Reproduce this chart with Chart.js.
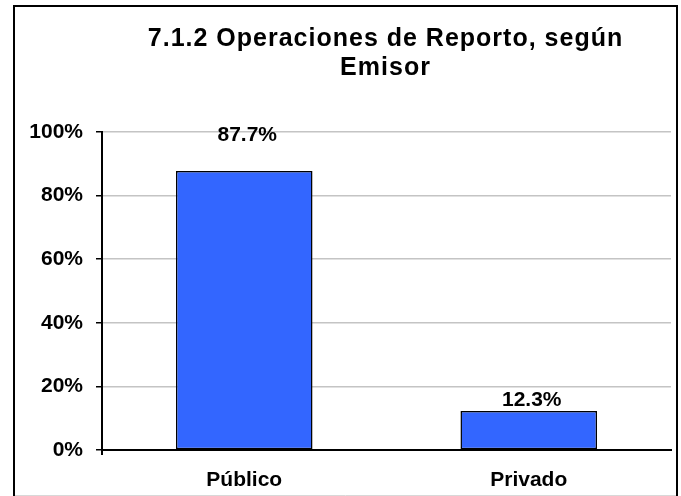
<!DOCTYPE html>
<html lang="es">
<head>
    <meta charset="UTF-8">
    <title>7.1.2 Operaciones de Reporto, según Emisor</title>
    <script src="https://cdn.jsdelivr.net/npm/chart.js"></script>
    <style>
        html, body { margin: 0; padding: 0; background: #fff; }
        .chart-box { position: relative; width: 681px; height: 496px; }
    </style>
</head>
<body>
    <div class="chart-box">
        <canvas id="emisorChart" width="681" height="496"></canvas>
    </div>

    <script>
        // --- DATA ---
        const categories = ['Público', 'Privado'];
        const shares = [87.7, 12.3];
        const yTicks = [0, 20, 40, 60, 80, 100];
        const titleLines = ['7.1.2 Operaciones de Reporto, según', 'Emisor'];

        const FONT = "'Liberation Sans', Arial, sans-serif";

        // frame, two-line title and value labels over the bars
        const decorations = {
            id: 'decorations',
            beforeDraw(chart) {
                const ctx = chart.ctx;
                ctx.save();
                ctx.fillStyle = '#fff';
                ctx.fillRect(0, 0, chart.width, chart.height);
                ctx.restore();
            },
            afterDraw(chart) {
                const ctx = chart.ctx;
                const area = chart.chartArea;
                ctx.save();

                // outer frame
                ctx.strokeStyle = '#000';
                ctx.lineWidth = 2;
                ctx.strokeRect(14, 6, 663, 500);
                ctx.strokeStyle = '#d8d8d8';
                ctx.lineWidth = 1;
                ctx.beginPath();
                ctx.moveTo(15, 495.5);
                ctx.lineTo(676, 495.5);
                ctx.stroke();

                // y axis runs a little past the x axis
                ctx.strokeStyle = '#000';
                ctx.lineWidth = 2;
                ctx.beginPath();
                ctx.moveTo(area.left, area.bottom);
                ctx.lineTo(area.left, area.bottom + 5);
                ctx.stroke();

                // title, centred over the plot area
                ctx.fillStyle = '#000';
                ctx.textAlign = 'center';
                ctx.textBaseline = 'alphabetic';
                ctx.font = 'bold 25px ' + FONT;
                ctx.letterSpacing = '1px';
                const cx = (area.left + area.right) / 2;
                ctx.fillText(titleLines[0], cx - 1, 46);
                ctx.fillText(titleLines[1], cx - 1, 75);
                ctx.letterSpacing = '0px';

                // value labels
                ctx.font = 'bold 21px ' + FONT;
                const offsets = [30, 5];
                chart.getDatasetMeta(0).data.forEach((bar, i) => {
                    ctx.fillText(shares[i].toFixed(1) + '%', bar.x + 3, bar.y - offsets[i]);
                });
                ctx.restore();
            }
        };

        const ctx = document.getElementById('emisorChart').getContext('2d');
        new Chart(ctx, {
            type: 'bar',
            data: {
                labels: categories,
                datasets: [{
                    data: shares,
                    backgroundColor: '#3366FF',
                    borderColor: '#000',
                    borderWidth: 1.5,
                    borderSkipped: false,
                    categoryPercentage: 1,
                    barPercentage: 0.48
                }]
            },
            options: {
                responsive: false,
                animation: false,
                layout: { padding: { left: 14, right: 10, top: 132, bottom: 0 } },
                plugins: {
                    legend: { display: false },
                    title: { display: false },
                    tooltip: { enabled: false }
                },
                scales: {
                    x: {
                        grid: { display: false },
                        border: { color: '#000', width: 2 },
                        ticks: {
                            color: '#000',
                            padding: 10,
                            font: { family: FONT, size: 21, weight: 'bold' }
                        },
                        afterFit(scale) { scale.height = 46; }
                    },
                    y: {
                        min: 0,
                        max: 100,
                        afterBuildTicks(scale) {
                            scale.ticks = yTicks.map(v => ({ value: v }));
                        },
                        grid: {
                            color: '#c4c4c4',
                            lineWidth: 1.5,
                            tickColor: '#000',
                            tickLength: 6
                        },
                        border: { color: '#000', width: 2 },
                        ticks: {
                            color: '#000',
                            padding: 13,
                            font: { family: FONT, size: 21, weight: 'bold' },
                            callback: v => v + '%'
                        },
                        afterFit(scale) { scale.width = 88; }
                    }
                }
            },
            plugins: [decorations]
        });
    </script>
</body>
</html>
